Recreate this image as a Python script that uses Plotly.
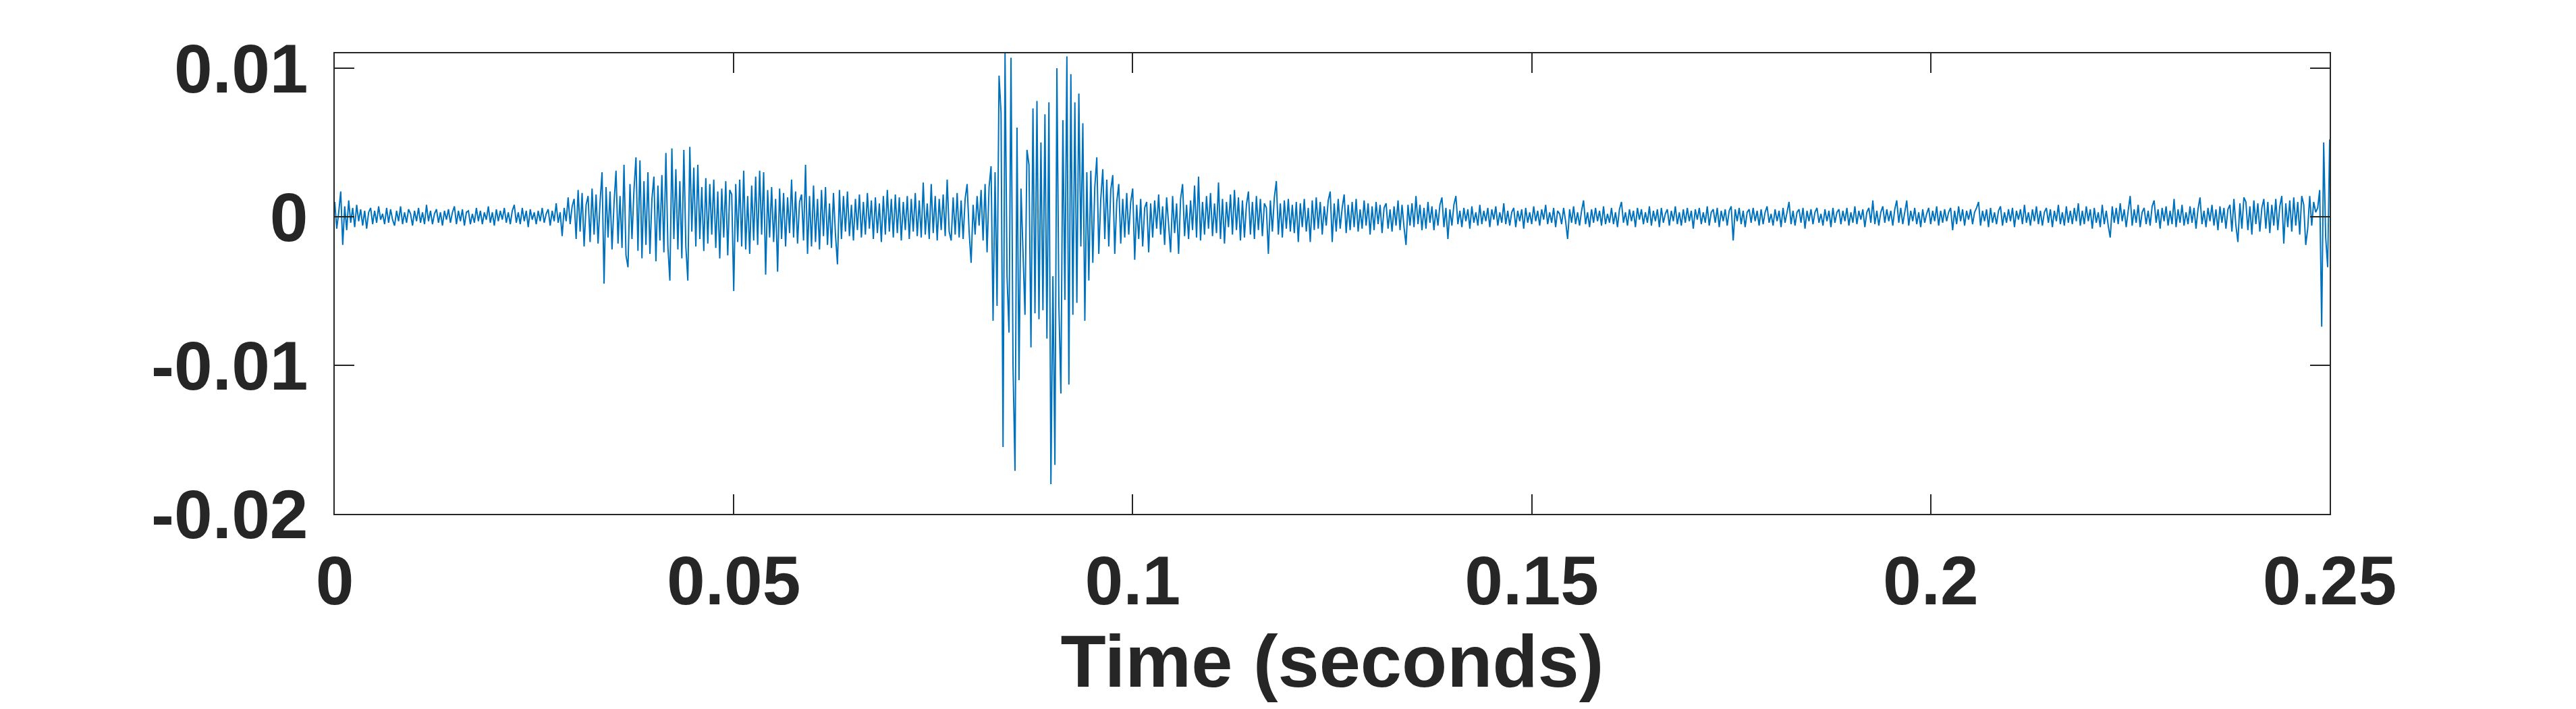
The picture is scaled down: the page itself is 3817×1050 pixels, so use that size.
import plotly.graph_objects as go

# Signal amplitude, in units of 1e-4 (converted below)
# 0.000 s - 0.030 s : quiet start
seg_quiet_start = [
    10, -8, 3, 17, -19, 7, -9, 11, -4, 6,
    -7, 8, -3, 5, -6, 4, -8, 3, 6, -5,
    4, -4, 7, -2, 2, -5, 6, -4, 5, -2,
    -6, 4, -3, 7, -5, 3, -4, 5, 2, -6,
    4, -3, 6, -4, 3, -5, 8, -3, 4, -5,
    2, 5, -4, 3, -6, 4, -2, 5, -4, 3,
    7, -5, 4, -3, 5, -6, 3, 4, -5, 2,
    -4, 6, -3, 4, -5, 3, -2, 7, -4, 3,
    -6, 5, -3, 4, -2, 6, -4, 3, -5, 4,
    8, -4, 3, -5, 6, -3, 4, -7, 5, -2,
    3, -5, 4, -3, 6, -4, 2, 5, -6, 4,
    -3, 9, -4, 3, -13, 6, -3, 13, -5, 7,
]
# 0.030 s - 0.080 s : first burst
seg_burst1 = [
    12, -15, 18, -10, 16, -20, 8, 14, -17, 19,
    -12, 15, -18, 10, 30, -45, 20, -14, 17, -22,
    9, 31, -18, 14, -21, 35, -26, -34, 22, -15,
    18, 40, -23, 38, -28, 24, -19, 30, -25, 12,
    27, -30, 21, -16, 28, -24, 43, -20, -43, 46,
    -15, 32, -22, 24, -28, 45, -20, -43, 47, -10,
    33, -20, 35, -15, 20, -23, 26, -18, 22, -12,
    25, -21, 17, -28, 19, -14, 24, -26, 18, 15,
    -50, 22, -17, 25, -20, 31, -22, 14, -25, 21,
    -16, 27, -19, 31, -12, 30, -39, 18, -14, 20,
    -17, 12, -37, 19, -15, 16, -20, 13, -11, 25,
    -14, 17, -18, 10, 15, -16, 35, -25, 14, -20,
    21, -17, 12, -22, 18, -13, 20, -19, 9, -21,
    16, -12, -32, 18, -15, 14, -10, 17, -13, 8,
    -16, 12, -9, 15, -14, 10, -12, 16, -8, 11,
    -15, 13, -11, 9, -17, 14, -12, 18, -10, 12,
    -14, 15, -11, 13, -16, 10, -9, 14, -15, 12,
    -10, 16, -13, 11, -14, 23, -12, 9, -15, 22,
    -11, 14, -16, 12, -9, 15, -13, 25, -10, -16,
    13, -12, 16, -14, 11, -15, 12, 22, -10, -31,
]
# 0.080 s - 0.100 s : main burst
seg_burst2 = [
    8, -12, 14, -6, 18, -16, 22, -24, 20, 34,
    -70, 30, -60, 95, 70, -155, 110, -40, -78, 107,
    -100, -171, 60, -110, 19, -23, -66, 45, 35, -88,
    73, -65, 78, -69, 50, -63, 69, -82, 77, -180,
    -40, -167, 100, -60, -119, 65, -56, 108, -113, 96,
    -66, 77, -58, 83, -20, 63, -70, 30, -43, 31,
    -31, 20, 40, -25, 12, 32, -15, 25, -20, 18,
    28, -25, 10, 22, -18, 12, -14, 16, -12, 10,
]
# 0.100 s - 0.140 s : decay
seg_decay = [
    19, -29, 8, -15, 12, -20, 6, 10, -24, 9,
    -14, 11, -8, 15, -12, 7, -19, 13, -6, -24,
    14, -11, 9, -25, 12, 22, -13, 8, -15, 11,
    -9, 21, -14, 27, -16, 10, -12, 14, -8, 16,
    -13, 9, -11, 23, -15, 12, -18, 10, -7, 15,
    -12, 18, -9, 13, -16, 11, -14, 8, 17, -12,
    10, -15, 14, -9, 12, -13, 9, 6, -25, 11,
    -10, 13, 24, -12, 9, -14, 11, -8, 12, -10,
    8, -11, 10, -17, 9, -7, 12, -10, 6, -17,
    11, -9, 13, -8, 10, -12, 7, -6, 11, 17,
    -17, 9, -10, 12, -8, 6, 15, -11, 8, -9,
    10, -7, 12, -10, 5, -8, 11, -6, 9, -12,
    7, -9, 10, -5, 8, -11, 6, 9, -8, 5,
    -10, 7, -6, 11, -9, 8, -7, -19, 8, -6,
    9, -7, 14, -5, 8, -9, 6, -8, 10, -4,
    7, -9, 5, -6, 8, 13, -7, 6, -15, 5,
]
# 0.140 s - 0.2375 s : low noise floor
seg_floor = [
    -6, 8, 14, -5, 4, -7, 6, -3, 5, -8,
    7, -4, 3, -6, 8, -5, 4, -3, 6, -7,
    5, -2, 7, -6, 3, -4, 9, -5, 4, -6,
    3, 6, -7, 4, -3, 5, -8, 6, -4, 3,
    -5, 7, -3, 4, -6, 5, -2, 8, -5, 3,
    -4, 6, -7, 4, 2, -5, 6, -3, -15, 5,
    -4, 7, -5, 3, -6, 4, 11, -5, 3, -7,
    5, -4, 6, -3, 4, -6, 7, -5, 2, -4,
    6, -5, 3, -7, 5, 10, -4, 3, -6, 5,
    -3, 4, -7, 6, -2, 5, -5, 3, -4, 7,
    -6, 4, -3, 5, -7, 6, -4, 2, 5, -6,
    4, -3, 7, -5, 3, -6, 5, -4, 6, -3,
    4, -8, 5, -2, 6, -5, 3, -4, 7, -6,
    3, 5, -4, 6, -7, 4, -3, 5, -6, 4,
    7, -16, 5, -3, 6, -5, 4, -7, 3, 5,
    -4, 6, -3, 4, -6, 5, -5, 3, 7, -4,
    2, -6, 5, -3, 4, -7, 6, -4, 3, 10,
    -5, 4, -6, 3, 5, -4, 6, -8, 4, -3,
    5, -5, 3, 6, -4, 2, -6, 5, -3, 4,
    -7, 6, -4, 3, 5, -5, 4, -3, 6, -6,
    3, -4, 7, -5, 4, -2, 5, -7, 3, 6,
    -4, 11, -5, 4, -6, 3, 7, -4, 5, -3,
    4, -6, 5, 11, -4, 6, -5, 3, 11, -6,
    4, -3, 6, -5, 3, -7, 5, -4, 2, 6,
    -5, 4, -3, 7, -6, 4, -4, 5, -3, 3,
    6, -9, 4, -5, 7, -3, 5, -6, 4, -2,
    5, -5, 3, 6, 10, -6, 4, -3, 5, -7,
    6, -4, 3, -5, 4, 7, -6, 3, -4, 5,
    -3, 6, -7, 4, -2, 5, -5, 8, -4, 3,
    -6, 5, -3, 7, -5, 4, -6, 3, 6, -4,
    5, -7, 4, -3, 8, -5, 3, -6, 7, -4,
    4, -5, 6, -3, 9, -6, 4, -5, 7, -3,
    5, -8, 6, -4, 3, -7, 8, -5, 4, -6,
    -14, 7, -4, 6, -5, 9, -3, 5, -7, 4,
    14, -6, 5, -4, 8, -7, 3, 6, -5, 4,
    -6, 7, 11, -4, 5, -8, 6, -3, 7, -6,
    4, -5, 12, -7, 5, -4, 8, -6, 3, -5,
    7, -4, 6, -8, 5, 13, -5, 4, -7, 6,
    -3, 8, -6, 5, -9, 7, -4, 6, -8, 5,
]
# 0.2375 s - 0.250 s : end with final click
seg_end = [
    8, -10, 12, -6, -17, 9, -8, 13, 10, -9,
    7, -12, 11, -5, 9, -10, 6, 12, -8, 10,
    -11, 8, -6, 12, -9, 7, 14, -18, 9, -7,
    11, -10, 13, -6, 10, -12, 14, 8, -19, -8,
    14, -6, 10, 3, 6, 18, -74, 50, -14, -34,
    52,
]

DURATION = 0.25
UNIT = 1e-4

x_ticks = [0, 0.05, 0.1, 0.15, 0.2, 0.25]
x_tick_labels = ["0", "0.05", "0.1", "0.15", "0.2", "0.25"]
y_ticks = [-0.02, -0.01, 0, 0.01]
y_tick_labels = ["-0.02", "-0.01", "0", "0.01"]

samples = seg_quiet_start + seg_burst1 + seg_burst2 + seg_decay + seg_floor + seg_end
n = len(samples)
dt = DURATION / (n - 1)
t = [i * dt for i in range(n)]
y = [v * UNIT for v in samples]

fig = go.Figure()
fig.add_trace(go.Scatter(x=t, y=y, mode="lines",
                         line=dict(color="#0072BD", width=2),
                         hoverinfo="skip", showlegend=False))

axis_color = "#262626"
font_family = "Liberation Sans, Arial, Helvetica, sans-serif"

fig.update_layout(
    width=3809, height=1042,
    margin=dict(l=488, r=365, t=71, b=289, autoexpand=False),
    paper_bgcolor="white", plot_bgcolor="white",
    font=dict(family=font_family, color=axis_color),
)
fig.update_xaxes(
    range=[0, 0.25], tickvals=x_ticks, ticktext=x_tick_labels,
    ticks="inside", ticklen=29, tickwidth=2, tickcolor=axis_color,
    showline=True, linewidth=2, linecolor=axis_color, mirror="ticks",
    showgrid=False, zeroline=False, automargin=False,
    tickfont=dict(size=102, weight="bold", color=axis_color, family=font_family),
    ticklabelstandoff=10,
    title=dict(text="Time (seconds)", standoff=22,
               font=dict(size=110, weight="bold", color=axis_color, family=font_family)),
)
fig.update_yaxes(
    range=[-0.02, 0.011], tickvals=y_ticks, ticktext=y_tick_labels,
    ticks="inside", ticklen=29, tickwidth=2, tickcolor=axis_color,
    showline=True, linewidth=2, linecolor=axis_color, mirror="ticks",
    showgrid=False, zeroline=False, automargin=False,
    tickfont=dict(size=102, weight="bold", color=axis_color, family=font_family),
    ticklabelstandoff=17,
)

fig.write_html("out.html")
